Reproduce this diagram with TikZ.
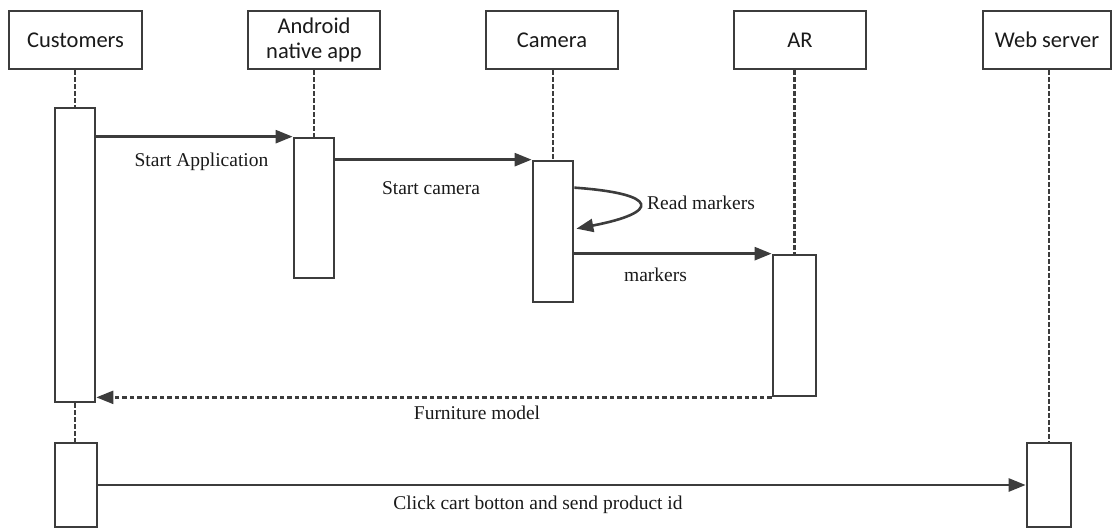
\documentclass[tikz,border=0pt]{standalone}
\usepackage{fontspec}
\setmainfont{Liberation Serif}
\newfontfamily\hdrfont{Carlito}
\usetikzlibrary{arrows.meta,calc}
\definecolor{ln}{HTML}{3C3C3C}
\definecolor{tx}{HTML}{1A1A1A}
\tikzset{
  hdrbox/.style={draw=ln, line width=2.7pt, fill=white, minimum height=58pt, inner sep=0pt, align=center, text=tx, font=\hdrfont\fontsize{22.5}{28}\selectfont},
  actbox/.style={draw=ln, line width=2.7pt, fill=white, inner sep=0pt},
  lifeline/.style={draw=ln, line width=2.4pt, dash pattern=on 4.5pt off 2.5pt},
  msg/.style={draw=ln, line width=2.6pt, -{Triangle[length=17pt,width=13pt]}},
  retmsg/.style={draw=ln, line width=2.4pt, dash pattern=on 4.5pt off 3pt, -{Triangle[length=17pt,width=13pt]}},
  lbl/.style={text=tx, inner sep=0pt, font=\fontsize{19.5}{23}\selectfont},
}
\begin{document}
\begin{tikzpicture}[x=1pt,y=-1pt]
\useasboundingbox (0,0) rectangle (1114,528);
% headers
\node[hdrbox, minimum width=133pt] (cust) at (75.5,40) {Customers};
\node[hdrbox, minimum width=132pt] (andr) at (314,40) {Android\\[-3pt]native app};
\node[hdrbox, minimum width=132pt] (camh) at (552,40) {Camera};
\node[hdrbox, minimum width=132pt] (arh) at (800,40) {AR};
\node[hdrbox, minimum width=128pt] (wsh) at (1047,40) {Web server};
% activations
\node[actbox, minimum width=40pt, minimum height=294pt] (ca1) at (75,255) {};
\node[actbox, minimum width=42pt, minimum height=84pt] (ca2) at (76,485) {};
\node[actbox, minimum width=40pt, minimum height=140pt] (an1) at (314,208) {};
\node[actbox, minimum width=40pt, minimum height=141pt] (cam1) at (553,231.5) {};
\node[actbox, minimum width=43pt, minimum height=141pt] (ar1) at (794.5,325.5) {};
\node[actbox, minimum width=44pt, minimum height=84pt] (ws1) at (1049,485) {};
% lifelines
\draw[lifeline] (ca1.north |- cust.south) -- (ca1.north);
\draw[lifeline] (ca1.south) -- (ca1.south |- ca2.north);
\draw[lifeline] (an1.north |- andr.south) -- (an1.north);
\draw[lifeline] (cam1.north |- camh.south) -- (cam1.north);
\draw[lifeline] (ar1.north |- arh.south) -- (ar1.north);
\draw[lifeline] (ws1.north |- wsh.south) -- (ws1.north);
% messages
\draw[msg] (ca1.east |- an1.north) -- (an1.north west);
\draw[msg] (an1.east |- cam1.north) -- (cam1.north west);
\coordinate (lpA) at ($(cam1.north east)+(0,28)$);
\coordinate (lpB) at ($(cam1.north east)+(2,69)$);
\draw[msg] (lpA) .. controls ($(lpA)+(86,6)$) and ($(lpB)+(84,-16)$) .. (lpB);
\draw[msg] (cam1.east |- ar1.north) -- (ar1.north west);
\draw[retmsg] (ar1.south west) -- (ca1.east |- ar1.south);
\draw[msg] (ca2.east) -- (ws1.west);
% labels
\node[lbl] (l1) at (201.5,162) {Start Application};
\node[lbl] (l2) at (431,188) {Start camera};
\node[lbl, anchor=west] (l3) at (647,203) {Read markers};
\node[lbl] (l4) at (655.5,275) {markers};
\node[lbl] (l5) at (477,413) {Furniture model};
\node[lbl] (l6) at (538,505) {Click cart botton and send product id};
\end{tikzpicture}
\end{document}
